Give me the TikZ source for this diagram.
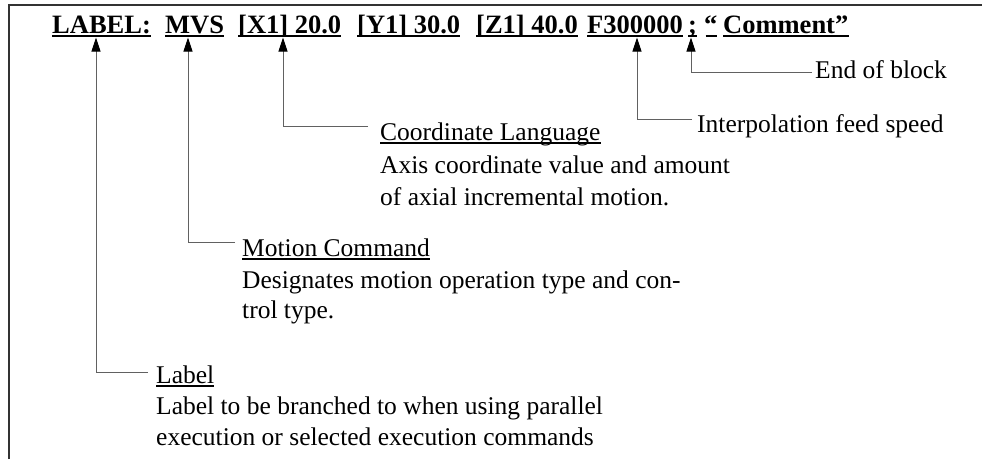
\documentclass[tikz,border=0pt]{standalone}
\usepackage{fontspec}
\setmainfont{Liberation Serif}
\usetikzlibrary{arrows.meta}
\begin{document}
\begin{tikzpicture}[x=1pt,y=-1pt,
  txt/.style={inner sep=0pt, anchor=base west, font=\fontsize{25.5}{31}\selectfont},
  code/.style={inner sep=0pt, anchor=base west, font=\fontsize{26.5}{31}\selectfont\bfseries},
  codeline/.style={line width=1.8pt},
  headline/.style={line width=1.1pt},
  lead/.style={draw=black!62, line width=1pt},
  tip/.style={-{Triangle[length=14pt,width=9pt,color=black]}}
]
\useasboundingbox (0,0) rectangle (982,459);
% frame
\draw[black!80, line width=1.2pt] (9,459) -- (9,5) -- (982,5);

% the statement
\node[code] (lbl)  at (52,33)  {LABEL:};
\node[code] (mvs)  at (165,33) {MVS};
\node[code] (xone) at (238,33) {[X1] 20.0};
\node[code] (yone) at (357,33) {[Y1] 30.0};
\node[code] (zone) at (476,33) {[Z1] 40.0};
\node[code] (feed) at (587,33) {F300000};
\node[code] (semi) at (688,33) {;};
\node[code] (oq)   at (704,33) {“};
\node[code] (cmt)  at (723,33) {Comment”};
\foreach \n in {lbl,mvs,xone,yone,zone,feed,semi,cmt}
  \draw[codeline] ([yshift=-3pt]\n.base west) -- ([yshift=-3pt]\n.base east);
\draw[codeline] ([xshift=1.5pt,yshift=-3pt]oq.base west) -- ([xshift=-1pt,yshift=-3pt]oq.base east);

% arrow tips under the statement
\coordinate (tLbl)  at (96,37.5);
\coordinate (tMvs)  at (188,37.5);
\coordinate (tX)    at (283,37.5);
\coordinate (tFeed) at (637,37.5);
\coordinate (tSemi) at (691,37.5);

% explanations
\node[txt] (hEnd)  at (815,78)  {End of block};
\node[txt] (hFeed) at (697,132) {Interpolation feed speed};

\node[txt] (hCoord) at (380,140) {Coordinate Language};
\node[txt] (bCoordA) at (380,173) {Axis coordinate value and amount};
\node[txt] (bCoordB) at (380,205) {of axial incremental motion.};

\node[txt] (hMotion) at (242,256) {Motion Command};
\node[txt] (bMotionA) at (242,288) {Designates motion operation type and con-};
\node[txt] (bMotionB) at (242,318) {trol type.};

\node[txt] (hLabel) at (156,383) {Label};
\node[txt] (bLabelA) at (156,414) {Label to be branched to when using parallel};
\node[txt] (bLabelB) at (156,445) {execution or selected execution commands};

\foreach \n in {hCoord,hMotion,hLabel}
  \draw[headline] ([yshift=-3pt]\n.base west) -- ([yshift=-3pt]\n.base east);

% leaders
\draw[lead,tip] ([xshift=-3pt,yshift=6pt]hEnd.base west) -| (tSemi);
\draw[lead,tip] ([xshift=-5pt,yshift=13pt]hFeed.base west) -| (tFeed);
\draw[lead,tip] ([xshift=-12pt,yshift=14pt]hCoord.base west) -| (tX);
\draw[lead,tip] ([xshift=-7pt,yshift=14pt]hMotion.base west) -| (tMvs);
\draw[lead,tip] ([xshift=-8pt,yshift=11pt]hLabel.base west) -| (tLbl);
\end{tikzpicture}
\end{document}
